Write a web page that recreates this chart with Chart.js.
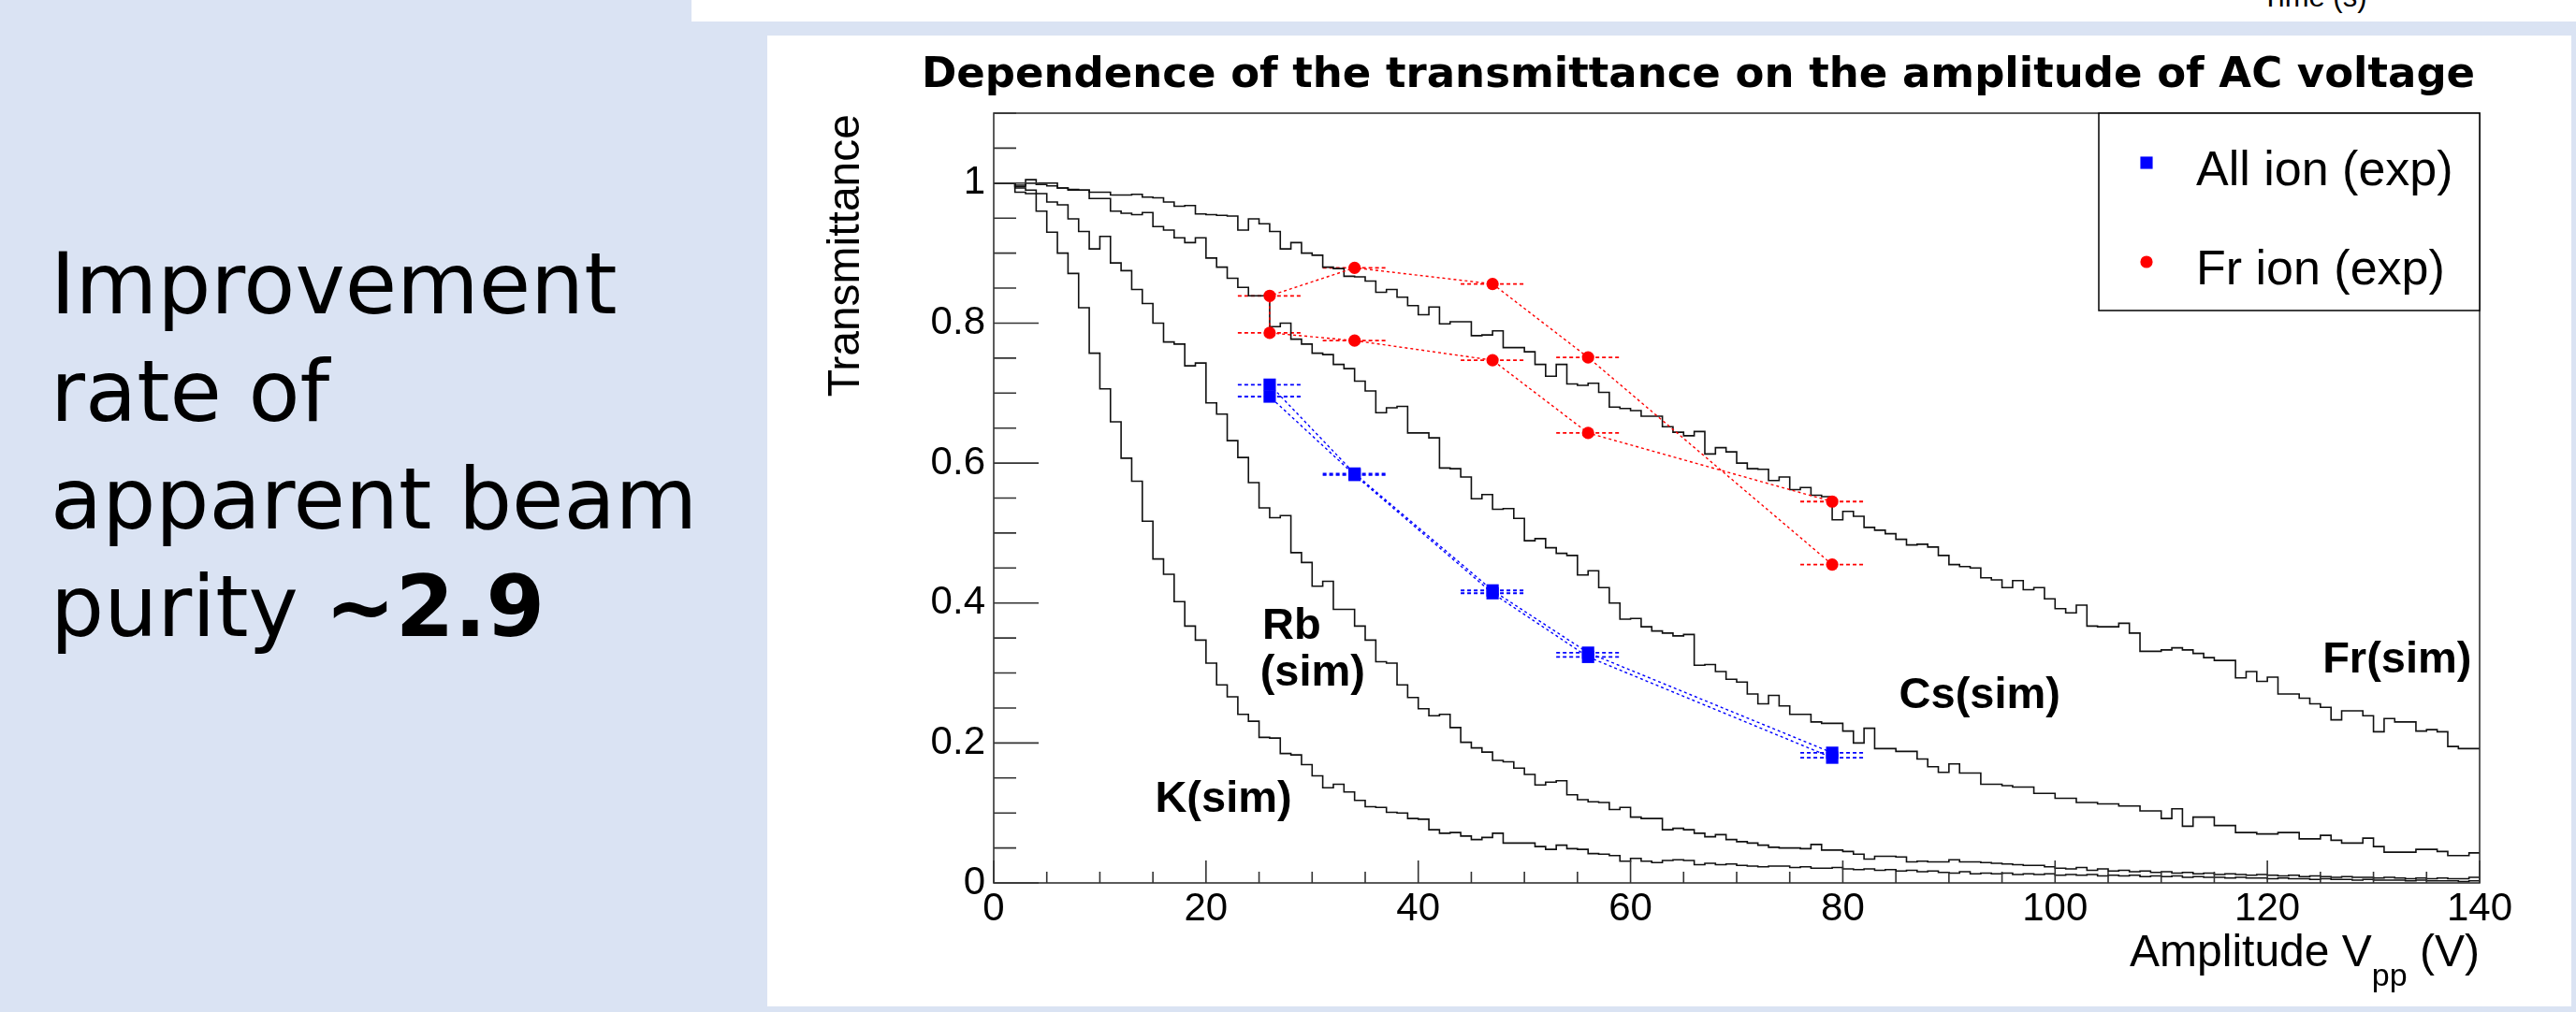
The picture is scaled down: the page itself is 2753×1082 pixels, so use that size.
<!DOCTYPE html>
<html>
<head>
<meta charset="utf-8">
<script src="https://cdn.jsdelivr.net/npm/chart.js@4.4.1/dist/chart.umd.min.js"></script>
<style>
  html, body { margin: 0; padding: 0; }
  body { width: 2753px; height: 1082px; background: #dae3f3; position: relative; overflow: hidden; font-family: "Liberation Sans", Arial, sans-serif; }
  #topBox { position: absolute; left: 739px; top: 0; width: 2014px; height: 23px; background: #fff; overflow: hidden; }
  #topBox span { position: absolute; left: 1678px; top: -19px; font-size: 31px; line-height: 31px; color: #000; white-space: nowrap; }
  #panel { position: absolute; left: 820px; top: 38px; width: 1928px; height: 1038px; background: #fff; }
  #note { position: absolute; left: 54px; top: 246px; font-family: "DejaVu Sans", Verdana, sans-serif; font-size: 90px; line-height: 115px; color: #000; white-space: nowrap; }
</style>
</head>
<body>
<div id="topBox"><span>Time (s)</span></div>
<div id="note">Improvement<br>rate of<br>apparent beam<br>purity <b>~2.9</b></div>
<div id="panel"><canvas id="chart" width="1928" height="1038"></canvas></div>
<script>
// simulated transmittance histograms, 1 V bins from 0 to 140 V
const BIN_WIDTH = 1;
const kSim = [
  1.0, 1.0, 0.987, 0.985, 0.96, 0.93, 0.90, 0.871, 0.822, 0.757,
  0.706, 0.659, 0.607, 0.574, 0.517, 0.463, 0.441, 0.402, 0.367, 0.347,
  0.314, 0.283, 0.266, 0.241, 0.231, 0.208, 0.207, 0.185, 0.183, 0.169,
  0.153, 0.136, 0.141, 0.130, 0.118, 0.109, 0.108, 0.101, 0.100, 0.092,
  0.091, 0.076, 0.071, 0.072, 0.067, 0.062, 0.065, 0.071, 0.057, 0.057,
  0.057, 0.052, 0.048, 0.054, 0.049, 0.048, 0.042, 0.041, 0.039, 0.031,
  0.035, 0.031, 0.029, 0.032, 0.033, 0.032, 0.026, 0.028, 0.026, 0.027,
  0.025, 0.024, 0.023, 0.024, 0.024, 0.022, 0.023, 0.021, 0.021, 0.022,
  0.020, 0.019, 0.020, 0.018, 0.019, 0.017, 0.018, 0.016, 0.017, 0.015,
  0.014, 0.016, 0.013, 0.014, 0.013, 0.014, 0.012, 0.013, 0.012, 0.013,
  0.011, 0.012, 0.011, 0.012, 0.010, 0.011, 0.010, 0.011, 0.009, 0.010,
  0.009, 0.010, 0.008, 0.009, 0.008, 0.008, 0.007, 0.008, 0.007, 0.007,
  0.006, 0.007, 0.006, 0.006, 0.005, 0.006, 0.005, 0.005, 0.004, 0.005,
  0.004, 0.004, 0.004, 0.003, 0.004, 0.003, 0.003, 0.003, 0.002, 0.003
];
const rbSim = [
  1.0, 1.0, 0.993, 0.99, 0.985, 0.973, 0.969, 0.949, 0.931, 0.906,
  0.924, 0.886, 0.875, 0.848, 0.828, 0.800, 0.773, 0.770, 0.739, 0.743,
  0.686, 0.670, 0.632, 0.608, 0.572, 0.536, 0.522, 0.525, 0.472, 0.458,
  0.424, 0.431, 0.391, 0.391, 0.367, 0.347, 0.316, 0.314, 0.283, 0.265,
  0.249, 0.239, 0.241, 0.222, 0.201, 0.193, 0.187, 0.175, 0.173, 0.164,
  0.155, 0.140, 0.144, 0.146, 0.126, 0.119, 0.116, 0.115, 0.105, 0.108,
  0.094, 0.092, 0.092, 0.076, 0.078, 0.076, 0.071, 0.066, 0.069, 0.062,
  0.059, 0.057, 0.054, 0.051, 0.050, 0.050, 0.049, 0.055, 0.047, 0.047,
  0.045, 0.041, 0.034, 0.038, 0.038, 0.037, 0.030, 0.031, 0.030, 0.030,
  0.033, 0.030, 0.030, 0.029, 0.028, 0.027, 0.026, 0.025, 0.025, 0.023,
  0.021, 0.020, 0.022, 0.018, 0.020, 0.017, 0.018, 0.016, 0.017, 0.015,
  0.016, 0.014, 0.015, 0.013, 0.014, 0.012, 0.013, 0.012, 0.011, 0.012,
  0.011, 0.010, 0.011, 0.009, 0.010, 0.009, 0.008, 0.009, 0.008, 0.008,
  0.007, 0.008, 0.007, 0.006, 0.007, 0.006, 0.007, 0.006, 0.006, 0.008
];
const csSim = [
  1.0, 1.0, 0.997, 1.0, 0.998, 0.996, 0.993, 0.991, 0.990, 0.978,
  0.978, 0.960, 0.957, 0.955, 0.958, 0.938, 0.933, 0.922, 0.915, 0.922,
  0.893, 0.880, 0.864, 0.851, 0.839, 0.839, 0.795, 0.800, 0.777, 0.770,
  0.757, 0.755, 0.741, 0.735, 0.717, 0.703, 0.672, 0.679, 0.681, 0.643,
  0.643, 0.636, 0.593, 0.592, 0.580, 0.549, 0.555, 0.534, 0.535, 0.521,
  0.489, 0.492, 0.479, 0.471, 0.468, 0.440, 0.446, 0.422, 0.400, 0.377,
  0.378, 0.366, 0.360, 0.357, 0.353, 0.355, 0.311, 0.312, 0.302, 0.291,
  0.287, 0.270, 0.256, 0.268, 0.253, 0.241, 0.241, 0.230, 0.228, 0.228,
  0.217, 0.200, 0.221, 0.192, 0.192, 0.188, 0.188, 0.177, 0.166, 0.158,
  0.170, 0.157, 0.157, 0.141, 0.141, 0.139, 0.137, 0.137, 0.128, 0.128,
  0.121, 0.121, 0.115, 0.115, 0.113, 0.113, 0.110, 0.110, 0.103, 0.103,
  0.092, 0.106, 0.081, 0.094, 0.094, 0.082, 0.082, 0.072, 0.072, 0.070,
  0.070, 0.072, 0.072, 0.063, 0.063, 0.068, 0.061, 0.057, 0.057, 0.064,
  0.052, 0.044, 0.044, 0.044, 0.048, 0.048, 0.045, 0.039, 0.039, 0.043
];
const frSim = [
  1.0, 1.0, 0.995, 1.005, 1.0, 1.0, 0.993, 0.990, 0.990, 0.987,
  0.987, 0.983, 0.983, 0.984, 0.980, 0.979, 0.973, 0.967, 0.968, 0.956,
  0.955, 0.954, 0.953, 0.933, 0.949, 0.942, 0.931, 0.906, 0.915, 0.900,
  0.897, 0.880, 0.878, 0.867, 0.866, 0.860, 0.844, 0.848, 0.837, 0.825,
  0.812, 0.823, 0.799, 0.802, 0.802, 0.782, 0.783, 0.789, 0.765, 0.765,
  0.759, 0.741, 0.724, 0.741, 0.713, 0.711, 0.714, 0.701, 0.680, 0.678,
  0.675, 0.667, 0.667, 0.652, 0.644, 0.639, 0.645, 0.613, 0.622, 0.616,
  0.600, 0.592, 0.591, 0.575, 0.580, 0.562, 0.565, 0.554, 0.552, 0.519,
  0.531, 0.524, 0.508, 0.504, 0.499, 0.491, 0.483, 0.484, 0.480, 0.468,
  0.455, 0.452, 0.450, 0.436, 0.433, 0.422, 0.432, 0.419, 0.422, 0.406,
  0.392, 0.386, 0.397, 0.367, 0.366, 0.366, 0.371, 0.357, 0.331, 0.331,
  0.333, 0.336, 0.333, 0.328, 0.322, 0.318, 0.318, 0.293, 0.302, 0.288,
  0.294, 0.270, 0.270, 0.264, 0.256, 0.251, 0.233, 0.246, 0.246, 0.239,
  0.216, 0.235, 0.230, 0.230, 0.217, 0.219, 0.216, 0.195, 0.192, 0.192
];

// measured points (two runs each)
const expVolt = [26, 34, 47, 56, 79];
const expVoltErr = [3, 3, 3, 3, 3];
const allIonRun1 = [0.712, 0.585, 0.418, 0.329, 0.186];
const allIonRun2 = [0.695, 0.583, 0.414, 0.323, 0.179];
const frIonRun1 = [0.839, 0.879, 0.856, 0.751, 0.455];
const frIonRun2 = [0.786, 0.775, 0.747, 0.643, 0.545];

const xTickLabels = ['0', '20', '40', '60', '80', '100', '120', '140'];
const yTickLabels = ['0', '0.2', '0.4', '0.6', '0.8', '1'];

// text labels placed in data coordinates
const curveLabels = [
  { text: 'K(sim)', x: 15.2, y: 0.101 },
  { text: 'Rb', x: 25.3, y: 0.349 },
  { text: '(sim)', x: 25.1, y: 0.282 },
  { text: 'Cs(sim)', x: 85.3, y: 0.250 },
  { text: 'Fr(sim)', x: 125.2, y: 0.301 }
];

function histPoints(vals) {
  const pts = vals.map((v, i) => ({ x: i * BIN_WIDTH, y: v }));
  pts.push({ x: vals.length * BIN_WIDTH, y: vals[vals.length - 1] });
  return pts;
}

// ROOT-style polyline: run 1 backwards, then run 2 forwards
function graphPoints(xs, errs, run1, run2) {
  const a = xs.map((x, i) => ({ x: x, y: run1[i], ex: errs[i] })).reverse();
  const b = xs.map((x, i) => ({ x: x, y: run2[i], ex: errs[i] }));
  return a.concat(b);
}

function histDataset(label, vals) {
  return {
    label: label,
    data: histPoints(vals),
    stepped: true,
    borderColor: '#111',
    borderWidth: 1.6,
    pointRadius: 0,
    fill: false
  };
}

const FONT = '"Liberation Sans", Arial, sans-serif';
Chart.defaults.font.family = FONT;

const rootDecor = {
  id: 'rootDecor',
  beforeDatasetsDraw(chart) {
    const ctx = chart.ctx, xs = chart.scales.x, ys = chart.scales.y;
    ctx.save();
    chart.data.datasets.forEach(ds => {
      if (!ds.errorBars) return;
      ctx.strokeStyle = ds.borderColor;
      ctx.lineWidth = 1.8;
      ctx.setLineDash([4, 3]);
      ds.data.forEach(p => {
        const py = ys.getPixelForValue(p.y);
        ctx.beginPath();
        ctx.moveTo(xs.getPixelForValue(p.x - p.ex), py);
        ctx.lineTo(xs.getPixelForValue(p.x + p.ex), py);
        ctx.stroke();
      });
    });
    ctx.restore();
  },
  afterDatasetsDraw(chart) {
    const ctx = chart.ctx, ca = chart.chartArea;
    const xs = chart.scales.x, ys = chart.scales.y;
    ctx.save();
    // frame and inner ticks
    ctx.strokeStyle = '#333';
    ctx.lineWidth = 1.6;
    ctx.strokeRect(ca.left, ca.top, ca.right - ca.left, ca.bottom - ca.top);
    ctx.beginPath();
    xs.ticks.forEach(t => {
      const px = xs.getPixelForValue(t.value);
      const major = Math.abs(t.value / 20 - Math.round(t.value / 20)) < 1e-6;
      ctx.moveTo(px, ca.bottom);
      ctx.lineTo(px, ca.bottom - (major ? 24 : 12));
    });
    ys.ticks.forEach(t => {
      const py = ys.getPixelForValue(t.value);
      const major = Math.abs(t.value / 0.2 - Math.round(t.value / 0.2)) < 1e-6;
      ctx.moveTo(ca.left, py);
      ctx.lineTo(ca.left + (major ? 48 : 24), py);
    });
    ctx.stroke();

    // curve labels
    ctx.fillStyle = '#000';
    ctx.font = 'bold 47px ' + FONT;
    ctx.textAlign = 'left';
    ctx.textBaseline = 'alphabetic';
    curveLabels.forEach(l => ctx.fillText(l.text, xs.getPixelForValue(l.x), ys.getPixelForValue(l.y)));

    // y axis title
    ctx.font = '48px ' + FONT;
    ctx.save();
    ctx.translate(ca.left - 144, ca.top + 1);
    ctx.rotate(-Math.PI / 2);
    ctx.textAlign = 'right';
    ctx.fillText('Transmittance', 0, 0);
    ctx.restore();

    // x axis title with subscript
    const main1 = 'Amplitude V', sub = 'pp', main2 = ' (V)';
    ctx.font = '48px ' + FONT;
    const w1 = ctx.measureText(main1).width, w3 = ctx.measureText(main2).width;
    ctx.font = '34px ' + FONT;
    const w2 = ctx.measureText(sub).width;
    let x0 = ca.right - (w1 + w2 + w3);
    const base = ca.bottom + 89;
    ctx.font = '48px ' + FONT;
    ctx.fillText(main1, x0, base);
    ctx.font = '34px ' + FONT;
    ctx.fillText(sub, x0 + w1, base + 21);
    ctx.font = '48px ' + FONT;
    ctx.fillText(main2, x0 + w1 + w2, base);

    // legend box
    const lw = 407, lh = 211;
    const lx = ca.right - lw, ly = ca.top;
    ctx.fillStyle = '#fff';
    ctx.fillRect(lx, ly, lw, lh);
    ctx.strokeStyle = '#000';
    ctx.lineWidth = 1.5;
    ctx.strokeRect(lx, ly, lw, lh);
    ctx.font = '52px ' + FONT;
    chart.data.datasets.filter(ds => ds.legendText).forEach((ds, k) => {
      const my = ly + 53 + k * 106;
      ctx.fillStyle = ds.pointBackgroundColor;
      Chart.helpers.drawPoint(ctx, { pointStyle: ds.pointStyle, radius: ds.pointRadius, rotation: 0, borderWidth: 0 }, lx + 51, my);
      ctx.fillStyle = '#000';
      ctx.fillText(ds.legendText, lx + 104, my + 24);
    });
    ctx.restore();
  }
};

new Chart(document.getElementById('chart'), {
  type: 'line',
  data: {
    datasets: [
      {
        label: 'All ion (exp)',
        legendText: 'All ion (exp)',
        errorBars: true,
        data: graphPoints(expVolt, expVoltErr, allIonRun1, allIonRun2),
        borderColor: '#0000ff',
        borderWidth: 1.4,
        borderDash: [3, 3],
        pointStyle: 'rect',
        pointRadius: 9.3,
        pointBorderWidth: 0,
        pointBackgroundColor: '#0000ff',
        fill: false
      },
      {
        label: 'Fr ion (exp)',
        legendText: 'Fr ion (exp)',
        errorBars: true,
        data: graphPoints(expVolt, expVoltErr, frIonRun1, frIonRun2),
        borderColor: '#ff0000',
        borderWidth: 1.4,
        borderDash: [3, 3],
        pointStyle: 'circle',
        pointRadius: 6.6,
        pointBorderWidth: 0,
        pointBackgroundColor: '#ff0000',
        fill: false
      },
      histDataset('Fr(sim)', frSim),
      histDataset('Cs(sim)', csSim),
      histDataset('Rb(sim)', rbSim),
      histDataset('K(sim)', kSim)
    ]
  },
  options: {
    responsive: false,
    animation: false,
    devicePixelRatio: 1,
    layout: { padding: { left: 160, right: 98, top: 0, bottom: 52 } },
    plugins: {
      legend: { display: false },
      tooltip: { enabled: false },
      title: {
        display: true,
        text: 'Dependence of the transmittance on the amplitude of AC voltage',
        color: '#000',
        font: { family: '"DejaVu Sans", Verdana, sans-serif', weight: 'bold', size: 45 },
        padding: { top: 16, bottom: 13 }
      }
    },
    scales: {
      x: {
        type: 'linear',
        min: 0,
        max: 140,
        grid: { display: false, drawTicks: false },
        border: { display: false },
        ticks: {
          stepSize: 5,
          autoSkip: false,
          maxRotation: 0,
          padding: 3,
          color: '#000',
          font: { size: 42 },
          callback: v => xTickLabels.includes(String(v)) ? String(v) : ''
        },
        afterFit(s) { s.height = 80; s.paddingLeft = 0; s.paddingRight = 0; }
      },
      y: {
        type: 'linear',
        min: 0,
        max: 1.1,
        grid: { display: false, drawTicks: false },
        border: { display: false },
        ticks: {
          stepSize: 0.05,
          autoSkip: false,
          padding: 9,
          color: '#000',
          font: { size: 42 },
          callback: v => {
            const s = String(Math.round(v * 100) / 100);
            return yTickLabels.includes(s) ? s : '';
          }
        },
        afterFit(s) { s.width = 82; s.paddingTop = 0; s.paddingBottom = 0; }
      }
    }
  },
  plugins: [rootDecor]
});
</script>
</body>
</html>
